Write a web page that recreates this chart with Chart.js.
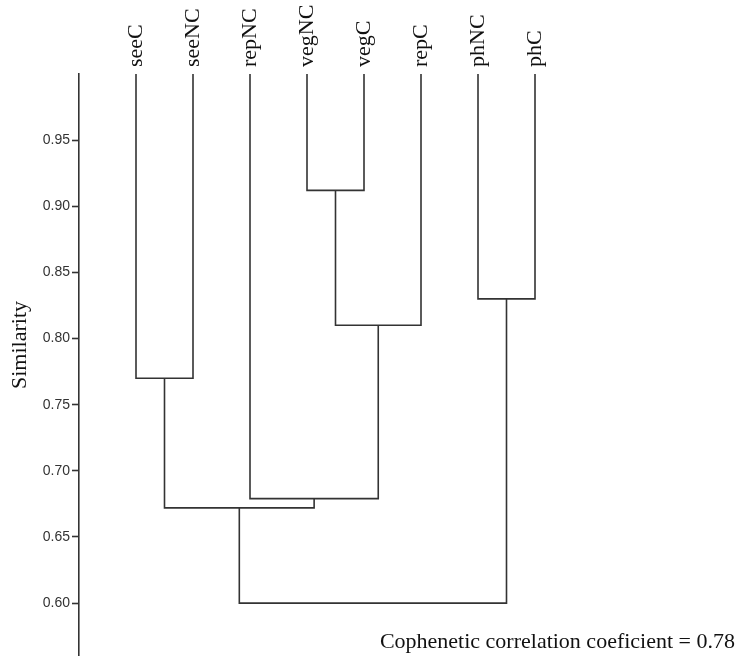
<!DOCTYPE html>
<html>
<head>
<meta charset="utf-8">
<script src="https://cdn.jsdelivr.net/npm/chart.js@4/dist/chart.umd.min.js"></script>
<style>
  html, body { margin: 0; padding: 0; background: #fff; }
  canvas { display: block; }
</style>
</head>
<body>
<canvas id="dendro" width="744" height="656"></canvas>
<script>
// Leaves in dendrogram order
const leaves = ["seeC", "seeNC", "repNC", "vegNC", "vegC", "repC", "phNC", "phC"];

// Merges: [childA, childB, similarity]; new cluster ids start at leaves.length
const mergeA = [3, 8, 0, 6, 2, 10, 13];
const mergeB = [4, 5, 1, 7, 9, 12, 11];
const mergeHeight = [0.912, 0.810, 0.770, 0.830, 0.679, 0.672, 0.600];

const yTicks = [0.60, 0.65, 0.70, 0.75, 0.80, 0.85, 0.90, 0.95];
const leafTop = 1.0;
const yTitle = "Similarity";
const note = "Cophenetic correlation coeficient = 0.78";

const serif = "'Liberation Serif', 'Times New Roman', serif";
const sans = "'Liberation Sans', Arial, sans-serif";
const ink = "#333";

// node positions: leaves at their index, clusters at the midpoint of children
const nodeX = leaves.map((_, i) => i);
const nodeY = leaves.map(() => leafTop);
const datasets = [];
mergeA.forEach((a, k) => {
    const b = mergeB[k], h = mergeHeight[k];
    datasets.push({
        data: [
            { x: nodeX[a], y: nodeY[a] },
            { x: nodeX[a], y: h },
            { x: nodeX[b], y: h },
            { x: nodeX[b], y: nodeY[b] }
        ],
        showLine: true,
        borderColor: ink,
        borderWidth: 1.6,
        pointRadius: 0,
        tension: 0,
        fill: false
    });
    nodeX.push((nodeX[a] + nodeX[b]) / 2);
    nodeY.push(h);
});

// extra texts: axis title and the note at the bottom
const textPlugin = {
    id: "texts",
    afterDraw(chart) {
        const ctx = chart.ctx;
        ctx.save();
        ctx.fillStyle = "#111";
        ctx.font = "22px " + serif;
        ctx.textAlign = "center";
        ctx.textBaseline = "middle";
        ctx.translate(20, 345);
        ctx.rotate(-Math.PI / 2);
        ctx.fillText(yTitle, 0, 0);
        ctx.restore();

        ctx.save();
        ctx.fillStyle = "#111";
        ctx.font = "22px " + serif;
        ctx.textAlign = "right";
        ctx.textBaseline = "alphabetic";
        ctx.fillText(note, 735, 648);
        ctx.restore();
    }
};

new Chart(document.getElementById("dendro"), {
    type: "scatter",
    data: { datasets },
    plugins: [textPlugin],
    options: {
        responsive: false,
        animation: false,
        layout: { padding: { top: 0, left: 0, right: 38, bottom: 0 } },
        plugins: {
            legend: { display: false },
            tooltip: { enabled: false }
        },
        scales: {
            x: {
                type: "linear",
                position: "top",
                min: -1,
                max: 10,
                border: { display: false },
                grid: { display: false, drawTicks: false },
                afterBuildTicks: (scale) => {
                    scale.ticks = leaves.map((_, i) => ({ value: i }));
                },
                afterFit: (scale) => {
                    scale.height = 74;
                    scale.paddingLeft = 0;
                    scale.paddingRight = 0;
                },
                ticks: {
                    autoSkip: false,
                    minRotation: 90,
                    maxRotation: 90,
                    padding: 7,
                    labelOffset: 27,
                    color: "#111",
                    font: { family: serif, size: 22 },
                    callback: (v) => leaves[v]
                }
            },
            y: {
                min: 0.56,
                max: 1.0,
                border: { display: true, color: ink, width: 1.6 },
                grid: {
                    drawOnChartArea: false,
                    drawTicks: true,
                    tickLength: 7,
                    tickWidth: 1.6,
                    tickColor: ink
                },
                afterBuildTicks: (scale) => {
                    scale.ticks = yTicks.map(v => ({ value: v }));
                },
                afterFit: (scale) => {
                    scale.width = 79;
                    scale.paddingTop = 0;
                    scale.paddingBottom = 0;
                },
                ticks: {
                    padding: 2,
                    color: ink,
                    font: { family: sans, size: 14 },
                    callback: (v) => v.toFixed(2)
                }
            }
        }
    }
});
</script>
</body>
</html>
